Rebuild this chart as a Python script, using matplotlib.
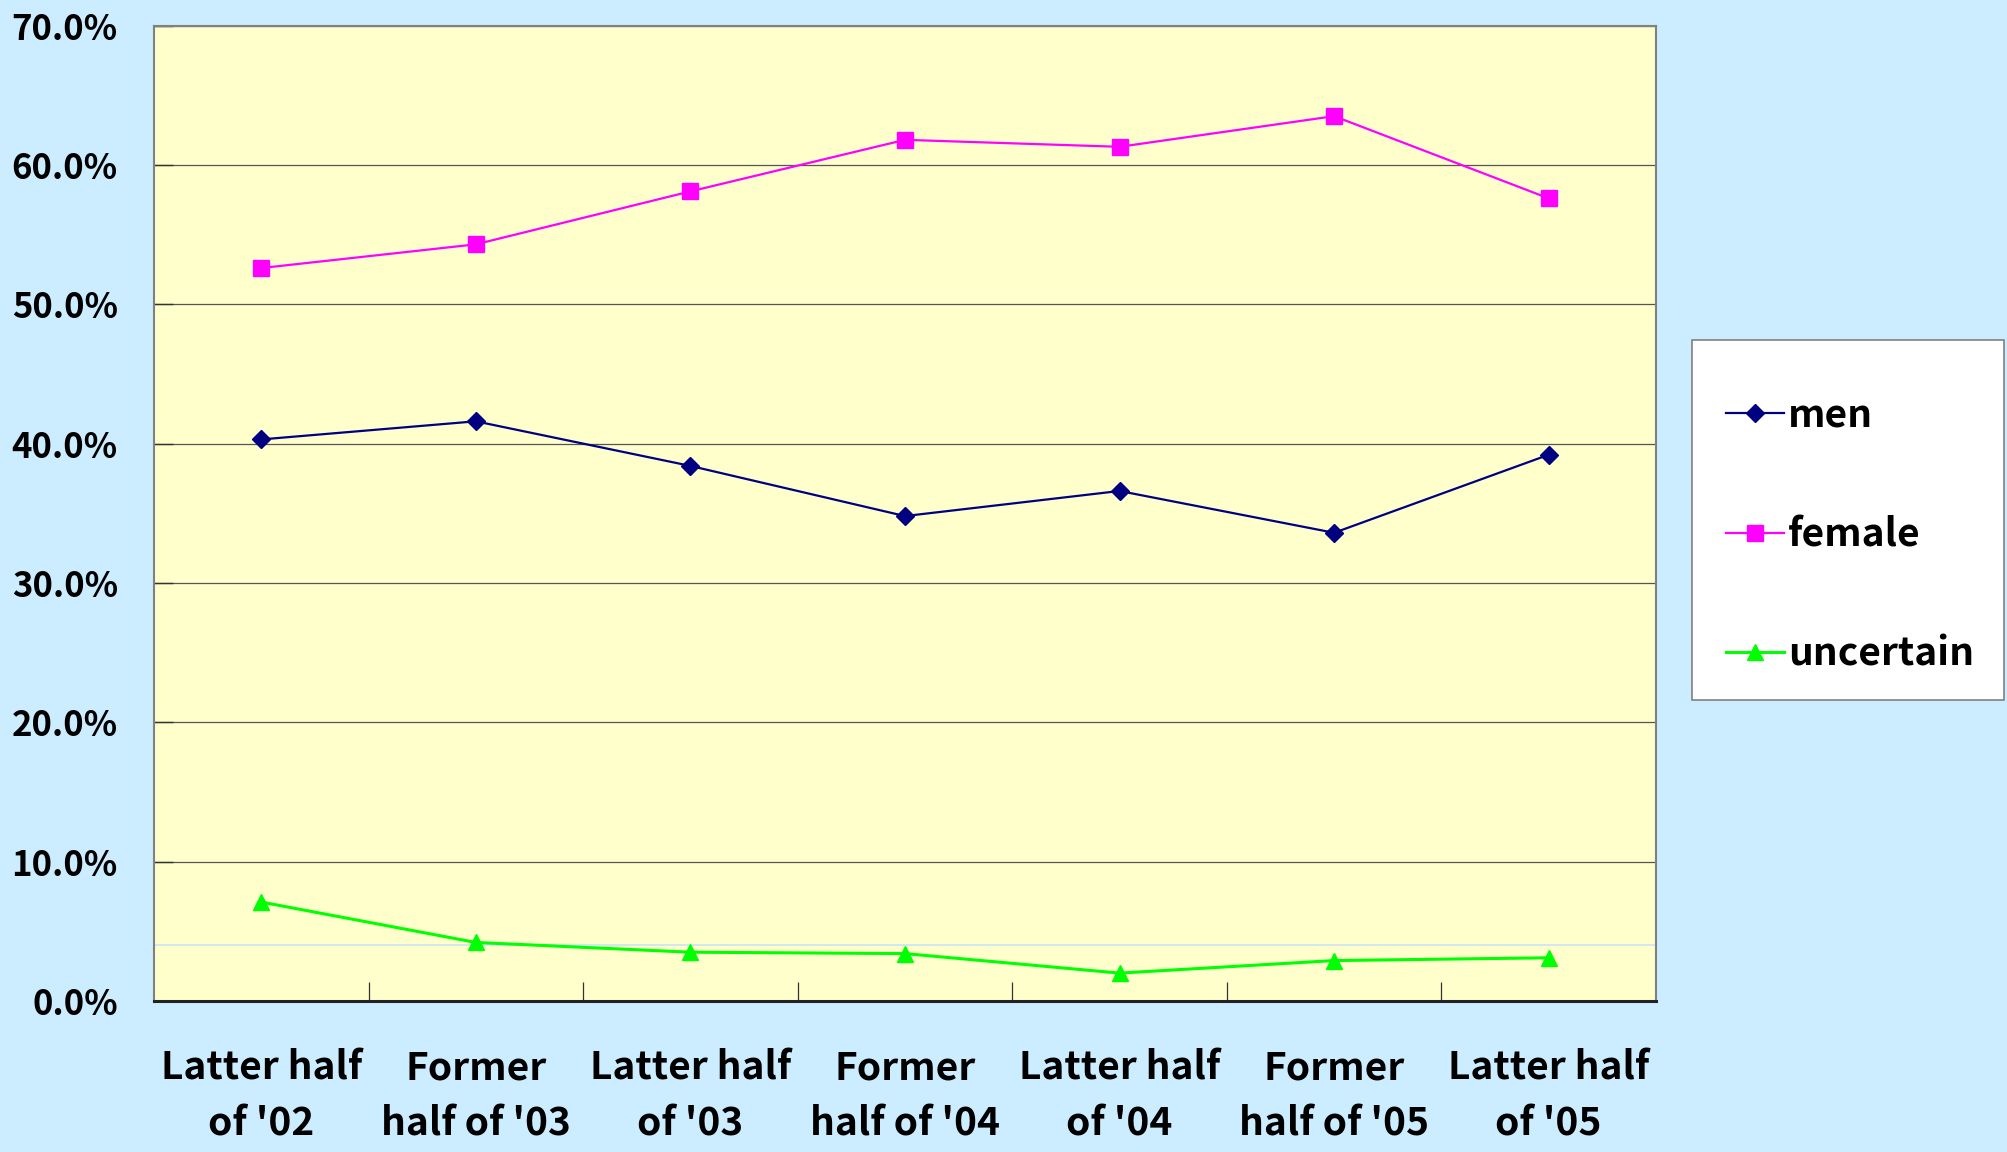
import matplotlib
matplotlib.use("Agg")
import matplotlib.pyplot as plt
from matplotlib.ticker import FuncFormatter, FixedLocator
from matplotlib.patches import Rectangle

categories = ["Latter half\nof '02", "Former\nhalf of '03", "Latter half\nof '03",
              "Former\nhalf of '04", "Latter half\nof '04", "Former\nhalf of '05",
              "Latter half\nof '05"]
men = [40.3, 41.6, 38.4, 34.8, 36.6, 33.6, 39.2]
female = [52.6, 54.3, 58.1, 61.8, 61.3, 63.5, 57.6]
uncertain = [7.1, 4.2, 3.5, 3.4, 2.0, 2.9, 3.1]
y_ticks = [0, 10, 20, 30, 40, 50, 60, 70]
ref_line = 4.0

plt.rcParams['font.family'] = ['Noto Sans CJK JP', 'DejaVu Sans']

fig = plt.figure(figsize=(20.07, 11.52), dpi=100)
fig.patch.set_facecolor('#CCECFF')
ax = fig.add_axes([0.0767, 0.1311, 0.8251 - 0.0767, 0.9778 - 0.1311])
ax.set_facecolor('#FFFFCC')

x = list(range(len(categories)))
ax.plot(x, men, color='#000080', marker='D', markersize=9, linewidth=1.6, label='men', zorder=3)
ax.plot(x, female, color='#FF00FF', marker='s', markersize=11, linewidth=1.6, label='female', zorder=3)
ax.plot(x, uncertain, color='#00FF00', marker='^', markersize=12, linewidth=2.2, label='uncertain', zorder=3)

ax.set_xlim(-0.5, len(categories) - 0.5)
ax.set_ylim(0, 70)
ax.yaxis.set_major_locator(FixedLocator(y_ticks))
ax.yaxis.set_major_formatter(FuncFormatter(lambda v, p: f"{v:.1f}%"))
ax.grid(axis='y', color='#555555', linewidth=0.9, zorder=1)
ax.axhline(ref_line, color='#C8E4F8', linewidth=1.2, zorder=1.5)

# category labels at centers, ticks at boundaries
ax.set_xticks([i + 0.5 for i in range(len(categories) - 1)])
ax.set_xticklabels([])
ax.set_xticks(x, minor=True)
ax.set_xticklabels(categories, minor=True, fontsize=28, fontweight='bold', linespacing=1.55)
ax.tick_params(axis='x', which='major', direction='in', length=14, width=0.9, color='#333333')
ax.tick_params(axis='x', which='minor', length=0, pad=34)
ax.tick_params(axis='y', direction='in', length=14, width=1, color='#333333', pad=26,
               labelsize=25)
for lab in ax.get_yticklabels():
    lab.set_fontweight('bold')

for s in ['top', 'right', 'left']:
    ax.spines[s].set_color('#808080')
    ax.spines[s].set_linewidth(1.5)
ax.spines['bottom'].set_color('#222222')
ax.spines['bottom'].set_linewidth(2.2)

# legend box
fig.patches.append(Rectangle((1692 / 2007, 1 - 700 / 1152), 312 / 2007, 360 / 1152,
                             transform=fig.transFigure, facecolor='white',
                             edgecolor='#808080', linewidth=1.2, zorder=5))
leg = fig.legend(loc='center left', bbox_to_anchor=(1707 / 2007, 1 - 535 / 1152),
                 frameon=False, handlelength=1.48, borderpad=0,
                 handletextpad=0.1, labelspacing=2.07,
                 prop={'weight': 'bold', 'size': 28})
leg.set_zorder(6)

fig.savefig('out.png', dpi=100, facecolor=fig.get_facecolor())
